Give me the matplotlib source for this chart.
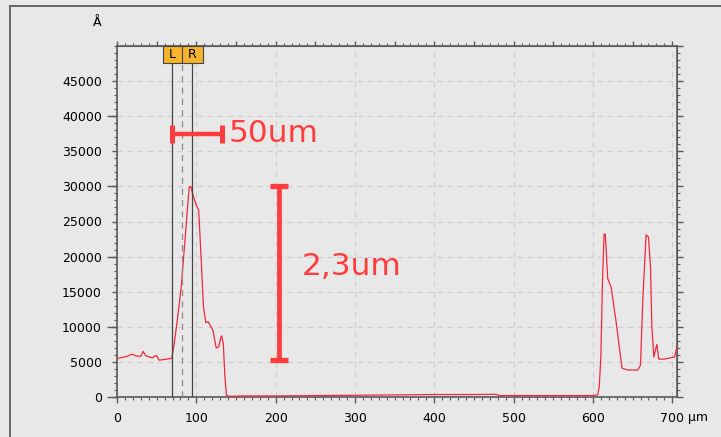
import matplotlib
matplotlib.use("Agg")
import matplotlib.pyplot as plt
from matplotlib.lines import Line2D
from matplotlib.patches import Rectangle
from matplotlib.ticker import MultipleLocator, NullFormatter
import matplotlib.transforms as mtransforms

# --- profile data (x in µm, height in Å) ---
x_um = [0, 8, 15, 19, 24, 30, 33, 36, 42, 45, 48, 50, 53, 60, 69,
        72, 76, 81, 86, 91, 93, 96, 100, 103, 106, 109, 112, 115, 118,
        121, 125, 128, 131, 132, 134, 136, 138, 142, 160, 200, 250, 300,
        350, 400, 450, 478, 482, 550, 600, 606, 608, 610, 612, 614, 615.6,
        618.6, 623, 629, 636.7, 644, 656.5, 660, 662.9, 667, 670, 672.6,
        674.3, 676.8, 680.6, 683, 690, 703, 706, 707]
height_a = [5500, 5650, 5900, 6100, 5850, 5800, 6500, 5900, 5650, 5600, 5850, 5900, 5250, 5350, 5500,
            7500, 10900, 15700, 22800, 29900, 30000, 28700, 27300, 26600, 19900, 12800, 10600, 10700, 10100,
            9500, 7000, 7100, 8500, 8700, 7600, 3000, 200, 100, 150, 150, 200, 250,
            300, 350, 350, 380, 200, 200, 200, 300, 1500, 5700, 16200, 23200, 23200,
            16900, 15600, 10900, 4100, 3840, 3850, 4550, 13800, 23100, 22800, 18500,
            10000, 5700, 7500, 5400, 5400, 5700, 7200, 6200]

x_ticks = [0, 100, 200, 300, 400, 500, 600, 700]
x_tick_labels = ["0", "100", "200", "300", "400", "500", "600", "700"]
y_ticks = list(range(0, 50000, 5000))

# cursors
cursor_l = 69
cursor_r = 94
cursor_mid = 82

# hand-drawn scale annotations
width_bar = (69.5, 133.0, 37500)      # x0, x1, y
width_label = "50um"
height_bar = (204.0, 5200, 30000)      # x, y0, y1
height_label = "2,3um"

BG = "#e8e8e8"
AX_COL = "#5a5a5a"
RED = "#f2283c"
ANNOT = "#ff3c3c"

W, H = 721, 437
fig = plt.figure(figsize=(W / 100, H / 100), dpi=100, facecolor=BG)
ax = fig.add_axes([117 / W, 40 / H, 560 / W, 351 / H], facecolor=BG)

# outer frame (left + top)
fig.add_artist(Line2D([10 / W, 10 / W], [0, 1 - 6 / H], transform=fig.transFigure, color="#666666", lw=1.4))
fig.add_artist(Line2D([10 / W, 1], [1 - 6 / H, 1 - 6 / H], transform=fig.transFigure, color="#666666", lw=1.4))

ax.set_xlim(0, 706)
ax.set_ylim(0, 50000)

ax.grid(True, which="major", color="#cdcdcd", linestyle=(0, (5, 4)), lw=0.8)
ax.set_axisbelow(True)

ax.plot(x_um, height_a, color=RED, lw=0.9, zorder=3)

# cursors
trans = mtransforms.blended_transform_factory(ax.transData, ax.transAxes)
box_bottom = 1 - 17 / 351
for cx in (cursor_l, cursor_r):
    ax.plot([cx, cx], [0, box_bottom], transform=trans, color="#444444", lw=0.9, zorder=4)
ax.plot([cursor_mid, cursor_mid], [0, box_bottom], transform=trans, color="#8a8a8a", lw=0.9,
        linestyle=(0, (5, 4)), zorder=4)
for x0, x1, lab in ((57.4, 81.4, "L"), (81.4, 107.9, "R")):
    ax.add_patch(Rectangle((x0, box_bottom), x1 - x0, 1 - box_bottom, transform=trans,
                           facecolor="#f6b42c", edgecolor="#444444", lw=0.8, zorder=5, clip_on=False))
    ax.text((x0 + x1) / 2, (1 + box_bottom) / 2, lab, transform=trans, ha="center", va="center",
            fontsize=9, color="black", zorder=6)

# scale annotations
wx0, wx1, wy = width_bar
ax.errorbar([(wx0 + wx1) / 2], [wy], xerr=[[(wx1 - wx0) / 2], [(wx1 - wx0) / 2]], fmt="none",
            ecolor=ANNOT, elinewidth=3.2, capsize=6.5, capthick=3.6, zorder=6)
ax.text(wx1 + 8, wy, width_label, color=ANNOT, fontsize=22.5, ha="left", va="center", zorder=6)

hx, hy0, hy1 = height_bar
ax.errorbar([hx], [(hy0 + hy1) / 2], yerr=[[(hy1 - hy0) / 2], [(hy1 - hy0) / 2]], fmt="none",
            ecolor=ANNOT, elinewidth=3.4, capsize=6.5, capthick=3.8, zorder=6)
ax.text(hx + 29, 18600, height_label, color=ANNOT, fontsize=22.5, ha="left", va="center", zorder=6)

# axes styling
for sp in ax.spines.values():
    sp.set_color(AX_COL)
    sp.set_linewidth(1.2)

ax.set_xticks(x_ticks)
ax.set_xticklabels(x_tick_labels)
ax.xaxis.set_minor_locator(MultipleLocator(10))
ax.set_yticks(y_ticks)
ax.yaxis.set_minor_locator(MultipleLocator(1000))
ax.tick_params(axis="x", which="major", direction="out", length=4.3, width=1, color=AX_COL,
               labelsize=9, pad=6.5)
ax.tick_params(axis="x", which="minor", direction="out", length=2.2, width=0.8, color=AX_COL)
ax.tick_params(axis="y", which="major", direction="out", length=3.6, width=1, color=AX_COL,
               labelsize=9, pad=7.2)
ax.tick_params(axis="y", which="minor", direction="out", length=2.2, width=0.8, color=AX_COL)

# long ticks every 10000 on the left
sec_l = ax.secondary_yaxis("left")
sec_l.set_yticks(list(range(0, 50000, 10000)))
sec_l.yaxis.set_major_formatter(NullFormatter())
sec_l.tick_params(length=7.2, width=1, color=AX_COL)
sec_l.spines["left"].set_visible(False)

# top and right tick rows
sec_t = ax.secondary_xaxis("top")
sec_t.xaxis.set_major_locator(MultipleLocator(50))
sec_t.xaxis.set_minor_locator(MultipleLocator(10))
sec_t.xaxis.set_major_formatter(NullFormatter())
sec_t.tick_params(which="major", length=3.6, width=1, color=AX_COL)
sec_t.tick_params(which="minor", length=2.2, width=0.8, color=AX_COL)
sec_t.spines["top"].set_color(AX_COL)

sec_r = ax.secondary_yaxis("right")
sec_r.yaxis.set_major_locator(MultipleLocator(5000))
sec_r.yaxis.set_minor_locator(MultipleLocator(1000))
sec_r.yaxis.set_major_formatter(NullFormatter())
sec_r.tick_params(which="major", length=4.3, width=1, color=AX_COL)
sec_r.tick_params(which="minor", length=2.5, width=0.8, color=AX_COL)
sec_r.spines["right"].set_color(AX_COL)

# units
ax.annotate("µm", xy=(700, 0), xycoords=("data", "axes fraction"), xytext=(11.5, -14.4),
            textcoords="offset points", ha="left", va="center", fontsize=9)
fig.text(97 / W, 1 - 22 / H, "Å", ha="center", va="center", fontsize=9)

fig.savefig("out.png", dpi=100, facecolor=BG)
